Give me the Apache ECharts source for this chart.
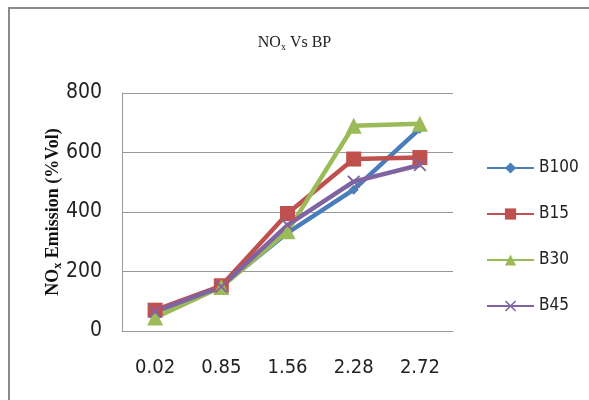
<!DOCTYPE html>
<html><head><meta charset="utf-8">
<script src="https://cdn.jsdelivr.net/npm/echarts@6/dist/echarts.min.js"></script>
<style>html,body{margin:0;padding:0;background:#fff}#c{width:589px;height:400px}</style>
</head><body><div id="c"></div>
<script>
var categories = ['0.02', '0.85', '1.56', '2.28', '2.72'];
var b100 = [65, 150, 330, 475, 680];
var b15 = [70, 152, 395, 578, 583];
var b30 = [45, 148, 335, 690, 697];
var b45 = [65, 149, 356, 502, 558];
var yTicks = [0, 200, 400, 600, 800];

var narrow = "'Liberation Sans Narrow','DejaVu Sans Condensed',sans-serif";
var serif = "'Liberation Serif','DejaVu Serif',serif";
var crossPath = 'path://M0,1 L1,0 L5,4 L9,0 L10,1 L6,5 L10,9 L9,10 L5,6 L1,10 L0,9 L4,5 Z';

function mk(name, data, color, symbol, size) {
  return {
    name: name, type: 'line', data: data,
    symbol: symbol, symbolSize: size,
    lineStyle: {color: color, width: 4.5},
    itemStyle: {color: color},
    emphasis: {disabled: true}
  };
}

var chart = echarts.init(document.getElementById('c'));
chart.setOption({
  animation: false,
  title: {
    text: '{a|NO}{b|x}{a| Vs BP}',
    left: 'center', top: 28,
    textStyle: {fontWeight: 'normal', rich: {
      a: {fontFamily: serif, fontSize: 16, fontWeight: 'normal', color: '#222'},
      b: {fontFamily: serif, fontSize: 10, fontWeight: 'normal', color: '#222', verticalAlign: 'bottom', padding: [9, 0, 0, 0]}
    }}
  },
  graphic: [{
    type: 'rect', shape: {x: 9, y: 8, width: 640, height: 420},
    style: {fill: 'none', stroke: '#8a8a8a', lineWidth: 2}, silent: true
  }],
  legend: {
    orient: 'vertical', left: 481, top: 153,
    itemWidth: 47, itemHeight: 14, itemGap: 26,
    textStyle: {fontFamily: narrow, fontSize: 17, color: '#222', lineHeight: 20},
    data: ['B100', 'B15', 'B30', 'B45']
  },
  grid: {left: 122, right: 136, top: 93, bottom: 69},
  xAxis: {
    type: 'category', data: categories, boundaryGap: true,
    axisLine: {lineStyle: {color: '#999', width: 1}},
    axisTick: {show: false},
    axisLabel: {fontFamily: narrow, fontSize: 20, color: '#222', margin: 27}
  },
  yAxis: {
    type: 'value', min: 0, max: 800, interval: 200,
    name: '{a|NO}{b|x}{a| Emission (%Vol)}',
    nameLocation: 'middle', nameRotate: 90, nameGap: 58,
    nameMoveOverlap: false,
    nameTextStyle: {rich: {
      a: {fontFamily: serif, fontSize: 18, fontWeight: 'bold', color: '#111'},
      b: {fontFamily: serif, fontSize: 12, fontWeight: 'bold', color: '#111', verticalAlign: 'bottom', padding: [10, 0, 0, 0]}
    }},
    axisLine: {show: true, lineStyle: {color: '#999', width: 1}},
    axisTick: {show: false},
    splitLine: {lineStyle: {color: '#999', width: 1}},
    axisLabel: {fontFamily: narrow, fontSize: 21, color: '#222', margin: 20,
      formatter: function (v) { return yTicks.indexOf(v) >= 0 ? String(v) : ''; }}
  },
  series: [
    mk('B100', b100, '#4A7EBB', 'diamond', 10),
    mk('B15', b15, '#C0504D', 'rect', 15),
    mk('B30', b30, '#9BBB59', 'triangle', 16),
    mk('B45', b45, '#8064A2', crossPath, 13)
  ]
});
</script></body></html>
